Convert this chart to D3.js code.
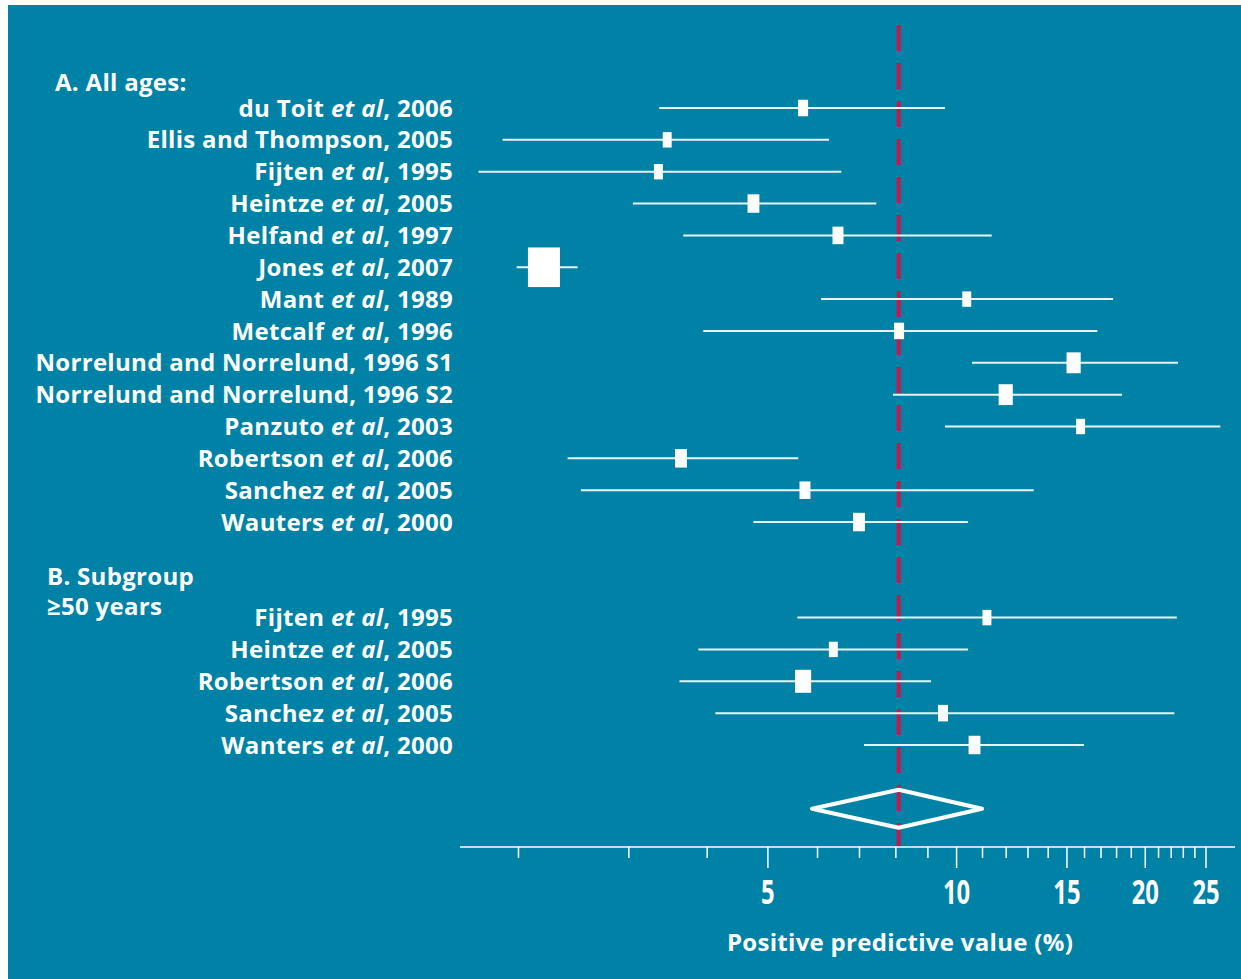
<!DOCTYPE html>
<html>
<head>
<meta charset="utf-8">
<script src="https://cdn.jsdelivr.net/npm/d3@7"></script>
<style>
  body { margin: 0; background: #fff; }
  text { font-family: "Open Sans", "DejaVu Sans", sans-serif; font-weight: bold; fill: #fff; }
</style>
</head>
<body>
<div id="chart-area"></div>
<script>
// A. All ages
const namesA = ["du Toit", "Ellis and Thompson", "Fijten", "Heintze", "Helfand", "Jones", "Mant",
    "Metcalf", "Norrelund and Norrelund", "Norrelund and Norrelund", "Panzuto", "Robertson", "Sanchez", "Wauters"];
const etalA = [true, false, true, true, true, true, true, true, false, false, true, true, true, true];
const yearsA = ["2006", "2005", "1995", "2005", "1997", "2007", "1989", "1996", "1996 S1", "1996 S2",
    "2003", "2006", "2005", "2000"];
const ppvA = [5.7, 3.46, 3.35, 4.75, 6.48, 2.2, 10.4, 8.11, 15.4, 12.0, 15.8, 3.64, 5.74, 7.0];
const lowA = [3.36, 1.89, 1.73, 3.05, 3.67, 1.99, 6.09, 3.95, 10.6, 7.93, 9.6, 2.4, 2.52, 4.75];
const highA = [9.6, 6.27, 6.56, 7.46, 11.4, 2.49, 17.8, 16.8, 22.6, 18.4, 26.4, 5.6, 13.3, 10.45];
const weightA = [1.0, 0.8, 0.8, 1.4, 1.2, 10.2, 0.8, 1.0, 2.0, 2.0, 0.8, 1.4, 1.2, 1.4];

// B. Subgroup >= 50 years
const namesB = ["Fijten", "Heintze", "Robertson", "Sanchez", "Wanters"];
const etalB = [true, true, true, true, true];
const yearsB = ["1995", "2005", "2006", "2005", "2000"];
const ppvB = [11.2, 6.37, 5.7, 9.53, 10.7];
const lowB = [5.58, 3.88, 3.62, 4.13, 7.13];
const highB = [22.5, 10.45, 9.12, 22.3, 16.0];
const weightB = [0.8, 0.8, 2.6, 1.0, 1.4];

// pooled estimate [low, estimate, high]
const pooled = [5.89, 8.1, 11.0];

const tickValues = [2, 3, 4, 5, 6, 7, 8, 9, 10, 11, 12, 13, 14, 15, 16, 17, 18, 19, 20, 21, 22, 23, 24, 25];
const tickLabels = [5, 10, 15, 20, 25];
const axisTitle = "Positive predictive value (%)";

const width = 1241, height = 979;
const teal = "#0082a6", red = "#c8174a";

let svg = d3.select("#chart-area").append("svg")
    .attr("width", width)
    .attr("height", height);

svg.append("rect")
    .attr("x", 8).attr("y", 5)
    .attr("width", width - 8).attr("height", height - 5)
    .attr("fill", teal);

// Scales
let x = d3.scaleLog()
    .domain([2, 25])
    .range([518, 1205.5]);

// row index -> y
let y = d3.scaleLinear()
    .domain([0, 1])
    .range([108, 139.85]);

let boxW = d3.scaleSqrt()
    .domain([0, 10.2])
    .range([0, 32]);

// build rows
let rows = [];
namesA.forEach((n, i) => rows.push({
    name: n, etal: etalA[i], year: yearsA[i], ppv: ppvA[i], low: lowA[i], high: highA[i], w: weightA[i], row: i
}));
namesB.forEach((n, i) => rows.push({
    name: n, etal: etalB[i], year: yearsB[i], ppv: ppvB[i], low: lowB[i], high: highB[i], w: weightB[i], row: 16 + i
}));

// Reference line at pooled estimate
svg.append("line")
    .attr("x1", x(pooled[1])).attr("x2", x(pooled[1]))
    .attr("y1", 25).attr("y2", y(23.2))
    .attr("stroke", red)
    .attr("stroke-width", 4)
    .attr("stroke-dasharray", "26,12");

// Confidence intervals
svg.selectAll(".ci")
    .data(rows)
    .enter()
    .append("line")
    .attr("class", "ci")
    .attr("x1", d => x(d.low))
    .attr("x2", d => x(d.high))
    .attr("y1", d => y(d.row))
    .attr("y2", d => y(d.row))
    .attr("stroke", "#e6f3f7")
    .attr("stroke-width", 2);

// Boxes
svg.selectAll(".box")
    .data(rows)
    .enter()
    .append("rect")
    .attr("class", "box")
    .attr("x", d => x(d.ppv) - boxW(d.w) / 2)
    .attr("y", d => y(d.row) - (boxW(d.w) * 1.05 + 6) / 2)
    .attr("width", d => boxW(d.w))
    .attr("height", d => boxW(d.w) * 1.05 + 6)
    .attr("fill", "#fff");

// Study labels
let labels = svg.selectAll(".label")
    .data(rows)
    .enter()
    .append("text")
    .attr("class", "label")
    .attr("x", 453)
    .attr("y", d => y(d.row))
    .attr("dy", "0.36em")
    .attr("text-anchor", "end")
    .style("font-size", "24px")
    .style("letter-spacing", "0.3px");

labels.each(function(d) {
    let t = d3.select(this);
    if (d.etal) {
        t.append("tspan").text(d.name + " ");
        t.append("tspan").style("font-style", "italic").text("et al");
        t.append("tspan").text(", " + d.year);
    } else {
        t.text(d.name + ", " + d.year);
    }
});

// Group headers
let headers = [
    {text: "A. All ages:", x: 55, row: -0.8},
    {text: "B. Subgroup", x: 47, row: 14.7},
    {text: "≥50 years", x: 47, row: 15.65}
];
svg.selectAll(".header")
    .data(headers)
    .enter()
    .append("text")
    .attr("class", "header")
    .attr("x", d => d.x)
    .attr("y", d => y(d.row))
    .attr("dy", "0.36em")
    .style("font-size", "24px")
    .style("letter-spacing", "0.3px")
    .text(d => d.text);

// Pooled diamond
let yd = y(22);
svg.append("path")
    .attr("d", `M${x(pooled[0])},${yd} L${x(pooled[1])},${yd - 19} L${x(pooled[2])},${yd} L${x(pooled[1])},${yd + 19} Z`)
    .attr("fill", "none")
    .attr("stroke", "#fff")
    .attr("stroke-width", 4)
    .attr("stroke-linejoin", "round");

// Axis
let axisY = y(23.2);
svg.append("line")
    .attr("x1", 460).attr("x2", 1235)
    .attr("y1", axisY).attr("y2", axisY)
    .attr("stroke", "#fff").attr("stroke-width", 1.5);

let axis = svg.append("g")
    .attr("class", "x-axis")
    .attr("transform", `translate(0,${axisY})`)
    .call(d3.axisBottom(x)
        .tickValues(tickValues)
        .tickSize(11)
        .tickSizeOuter(0)
        .tickFormat(d => tickLabels.includes(d) ? d : ""));

axis.select(".domain").remove();
axis.selectAll(".tick line")
    .attr("stroke", "#fff")
    .attr("stroke-width", 1.5)
    .attr("y2", d => tickLabels.includes(d) ? 21 : 11);
axis.selectAll(".tick text")
    .attr("y", 57)
    .attr("dy", "0")
    .attr("transform", "scale(0.7,1)")
    .style("font-family", "'Open Sans', sans-serif")
    .style("font-size", "34px")
    .style("font-weight", "bold")
    .attr("fill", "#fff");

svg.append("text")
    .attr("x", 900)
    .attr("y", 951)
    .attr("text-anchor", "middle")
    .style("font-size", "24px")
    .style("letter-spacing", "0.3px")
    .text(axisTitle);
</script>
</body>
</html>
